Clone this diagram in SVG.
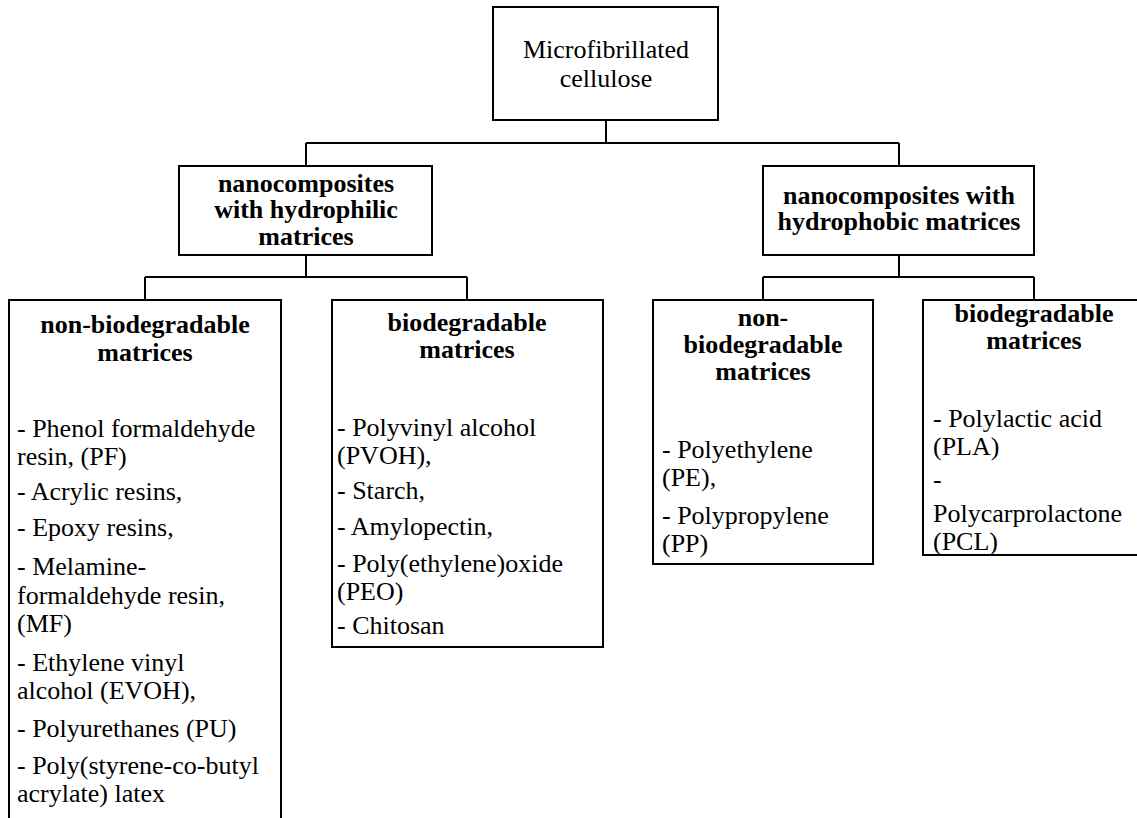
<svg xmlns="http://www.w3.org/2000/svg" width="1137" height="818" viewBox="0 0 1137 818">
<style>
.box{fill:#fff;stroke:#000;stroke-width:2}
.ln{fill:none;stroke:#000;stroke-width:2}
.t text{font-family:'Liberation Serif',Tinos,'Times New Roman',Times,serif;font-size:26px;fill:#000}
.h{font-weight:bold;text-anchor:middle}
.c{text-anchor:middle}
</style>
<rect width="1137" height="818" fill="#fff"/>
<g id="connectors">
<path class="ln" d="M606,120 V143 M306,143 H899 M306,143 V166 M899,143 V166"/>
<path class="ln" d="M306,255 V277 M145,277 H467 M145,277 V300 M467,277 V300"/>
<path class="ln" d="M899,255 V277 M763,277 H1034 M763,277 V300 M1034,277 V300"/>
</g>
<g class="t" font-family="Liberation Serif, serif" font-size="26">
<g id="root">
<rect class="box" x="493" y="7" width="225" height="113"/>
<text class="c" x="606" y="58">Microfibrillated</text>
<text class="c" x="606" y="87">cellulose</text>
</g>
<g id="hydrophilic">
<rect class="box" x="179" y="166" width="253" height="89"/>
<text class="h" x="306" y="192">nanocomposites</text>
<text class="h" x="306" y="218">with hydrophilic</text>
<text class="h" x="306" y="245">matrices</text>
</g>
<g id="hydrophobic">
<rect class="box" x="763" y="166" width="271" height="89"/>
<text class="h" x="899" y="204">nanocomposites with</text>
<text class="h" x="899" y="230">hydrophobic matrices</text>
</g>
<g id="philic-nonbio">
<rect class="box" x="9" y="300" width="272" height="540"/>
<text class="h" x="145" y="333">non-biodegradable</text>
<text class="h" x="145" y="361">matrices</text>
<text x="17" y="437">- Phenol formaldehyde</text>
<text x="17" y="465">resin, (PF)</text>
<text x="17" y="500">- Acrylic resins,</text>
<text x="17" y="536">- Epoxy resins,</text>
<text x="17" y="575">- Melamine-</text>
<text x="17" y="604">formaldehyde resin,</text>
<text x="17" y="632">(MF)</text>
<text x="17" y="671">- Ethylene vinyl</text>
<text x="17" y="699">alcohol (EVOH),</text>
<text x="17" y="737">- Polyurethanes (PU)</text>
<text x="17" y="774">- Poly(styrene-co-butyl</text>
<text x="17" y="802">acrylate) latex</text>
</g>
<g id="philic-bio">
<rect class="box" x="332" y="300" width="271" height="347"/>
<text class="h" x="467" y="331">biodegradable</text>
<text class="h" x="467" y="358">matrices</text>
<text x="337" y="436">- Polyvinyl alcohol</text>
<text x="337" y="464">(PVOH),</text>
<text x="337" y="499">- Starch,</text>
<text x="337" y="535">- Amylopectin,</text>
<text x="337" y="572">- Poly(ethylene)oxide</text>
<text x="337" y="600">(PEO)</text>
<text x="337" y="634">- Chitosan</text>
</g>
<g id="phobic-nonbio">
<rect class="box" x="653" y="300" width="220" height="264"/>
<text class="h" x="763" y="326">non-</text>
<text class="h" x="763" y="353">biodegradable</text>
<text class="h" x="763" y="380">matrices</text>
<text x="662" y="458">- Polyethylene</text>
<text x="662" y="486">(PE),</text>
<text x="662" y="524">- Polypropylene</text>
<text x="662" y="552">(PP)</text>
</g>
<g id="phobic-bio">
<rect class="box" x="923" y="300" width="230" height="255"/>
<text class="h" x="1034" y="322">biodegradable</text>
<text class="h" x="1034" y="349">matrices</text>
<text x="933" y="427">- Polylactic acid</text>
<text x="933" y="455">(PLA)</text>
<text x="933" y="488">-</text>
<text x="933" y="522">Polycarprolactone</text>
<text x="933" y="550">(PCL)</text>
</g>
</g>
</svg>
